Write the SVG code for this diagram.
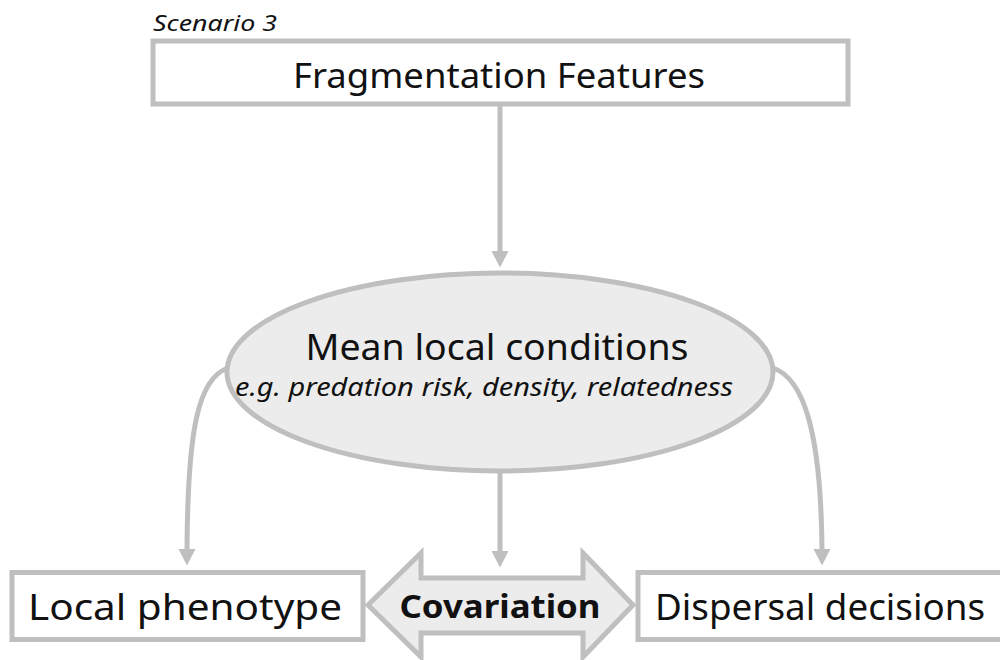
<svg xmlns="http://www.w3.org/2000/svg" width="1000" height="660" viewBox="0 0 1000 660">
<defs>
<style>
.box{fill:#ffffff;stroke:#bfbfbf;stroke-width:5}
.ell{fill:#ececec;stroke:#bfbfbf;stroke-width:5}
.con{fill:none;stroke:#bfbfbf;stroke-width:5}
.t{font-family:"Noto Sans","Open Sans",sans-serif;fill:#111;text-anchor:middle}
.i{font-style:italic}
</style>
<marker id="ah" markerWidth="4" markerHeight="4" refX="2.2" refY="2" orient="auto" markerUnits="strokeWidth">
<path d="M0,0.3 L3.3,2 L0,3.7 Z" fill="#bfbfbf"/>
</marker>
</defs>
<rect width="1000" height="660" fill="#ffffff"/>
<g id="connectors">
<path class="con" d="M500,106 L500,262" marker-end="url(#ah)"/>
<path class="con" d="M228,368 C198,378 187,430 187,560" marker-end="url(#ah)"/>
<path class="con" d="M773,368 C803,378 822,430 822,560" marker-end="url(#ah)"/>
<path class="con" d="M500,472 L500,562" marker-end="url(#ah)"/>
</g>
<g id="scenario">
<text class="t i" x="153" y="31" style="text-anchor:start" font-size="21" textLength="124" lengthAdjust="spacingAndGlyphs">Scenario 3</text>
</g>
<g id="fragmentation">
<rect class="box" x="153" y="41" width="695" height="63"/>
<text class="t" x="499" y="88" font-size="35" textLength="412" lengthAdjust="spacingAndGlyphs">Fragmentation Features</text>
</g>
<g id="mean-local">
<ellipse class="ell" cx="500" cy="372" rx="273" ry="99"/>
<text class="t" x="497" y="360" font-size="36" textLength="383" lengthAdjust="spacingAndGlyphs">Mean local conditions</text>
<text class="t i" x="484" y="396" font-size="25" textLength="498" lengthAdjust="spacingAndGlyphs">e.g. predation risk, density, relatedness</text>
</g>
<g id="covariation">
<path class="ell" d="M368,605 L421,553 L421,578 L583,578 L583,553 L633,605 L583,657 L583,633 L421,633 L421,657 Z"/>
<text class="t" x="500" y="618" font-size="32" font-weight="bold" textLength="201" lengthAdjust="spacingAndGlyphs">Covariation</text>
</g>
<g id="local-phenotype">
<rect class="box" x="12" y="572.5" width="351" height="67"/>
<text class="t" x="185" y="620" font-size="36" textLength="314" lengthAdjust="spacingAndGlyphs">Local phenotype</text>
</g>
<g id="dispersal">
<rect class="box" x="638" y="572.5" width="372" height="67"/>
<text class="t" x="820" y="620" font-size="36" textLength="330" lengthAdjust="spacingAndGlyphs">Dispersal decisions</text>
</g>
</svg>
